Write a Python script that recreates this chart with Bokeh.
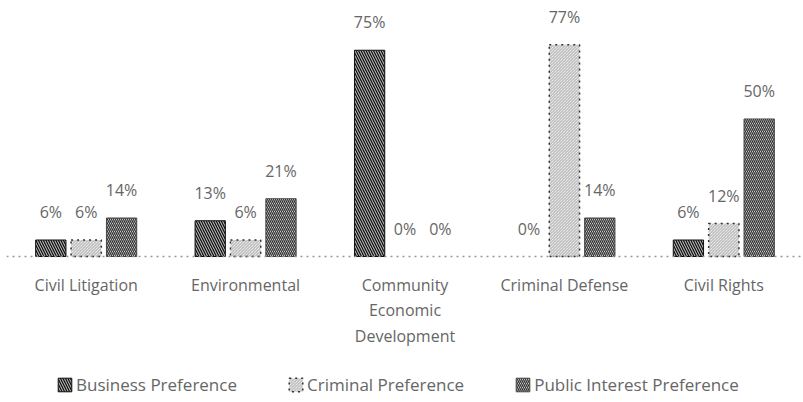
from bokeh.plotting import figure
from bokeh.models import ColumnDataSource, FactorRange, LabelSet, Legend, LegendItem, Range1d
from bokeh.core.properties import value
from bokeh.transform import dodge
from bokeh.embed import file_html
from bokeh.resources import INLINE

categories = ["Civil Litigation", "Environmental", "Community\nEconomic\nDevelopment",
              "Criminal Defense", "Civil Rights"]
business = [6, 13, 75, 0, 6]
criminal = [6, 6, 0, 77, 12]
public = [14, 21, 0, 14, 50]
series_names = ["Business Preference", "Criminal Preference", "Public Interest Preference"]

src = ColumnDataSource(dict(
    cat=categories, business=business, criminal=criminal, public=public,
    b_lbl=[f"{v}%" for v in business],
    c_lbl=[f"{v}%" for v in criminal],
    p_lbl=[f"{v}%" for v in public],
    b_a=[0 if v == 0 else 1 for v in business],
    c_a=[0 if v == 0 else 1 for v in criminal],
    p_a=[0 if v == 0 else 1 for v in public],
))

TXT = "#666666"
FONT = "Open Sans"

p = figure(x_range=FactorRange(*categories, range_padding=0), y_range=Range1d(-53.09, 93.09),
           width=803, height=402, output_backend="svg", toolbar_location=None,
           min_border_left=6, min_border_right=0, min_border_top=0, min_border_bottom=0)

off = 0.222
bw = 0.19
r1 = p.vbar(x=dodge("cat", -off, range=p.x_range), top="business", width=bw, source=src,
            fill_color="#111111", line_color="#111111", line_alpha="b_a",
            hatch_pattern="left_diagonal_line",
            hatch_color="white", hatch_scale=5, hatch_weight=0.8)
r2 = p.vbar(x=dodge("cat", 0, range=p.x_range), top="criminal", width=bw, source=src,
            fill_color="white", line_color="#333333", line_dash="dotted", line_width=1.5,
            line_alpha="c_a",
            hatch_pattern="left_diagonal_line", hatch_color="#b0b0b0", hatch_scale=3, hatch_weight=1)
r3 = p.vbar(x=dodge("cat", off, range=p.x_range), top="public", width=bw, source=src,
            fill_color="white", line_color="#444444", line_alpha="p_a",
            hatch_pattern="left_diagonal_line",
            hatch_color="#333333", hatch_scale=4, hatch_weight=1.4)

for col, lbl, o in [("business", "b_lbl", -off), ("criminal", "c_lbl", 0), ("public", "p_lbl", off)]:
    ls = LabelSet(x=dodge("cat", o, range=p.x_range), y=col, text=lbl, source=src,
                  y_offset=28, text_align="center", text_baseline="middle",
                  text_font=value(FONT), text_font_size="16px", text_color=TXT)
    p.add_layout(ls)

p.yaxis.visible = False
p.xgrid.grid_line_color = None
p.ygrid.grid_line_color = None
p.outline_line_color = None
ax = p.xaxis[0]
ax.fixed_location = 0
ax.axis_line_color = "#999999"
ax.axis_line_dash = "dotted"
ax.axis_line_width = 1.5
ax.major_tick_line_color = None
ax.minor_tick_line_color = None
ax.major_label_standoff = 11
ax.major_label_text_font = FONT
ax.major_label_text_font_size = "16px"
ax.major_label_text_color = TXT
ax.major_label_text_line_height = 1.18
ax.major_label_orientation = "horizontal"

legend = Legend(items=[LegendItem(label=series_names[0], renderers=[r1]),
                       LegendItem(label=series_names[1], renderers=[r2]),
                       LegendItem(label=series_names[2], renderers=[r3])],
                orientation="horizontal", location=(50, 6),
                label_text_font=FONT, label_text_font_size="17px", label_text_color=TXT,
                glyph_width=17, glyph_height=17, spacing=50, label_standoff=3,
                border_line_alpha=0, background_fill_alpha=0, margin=0, padding=0)
p.add_layout(legend, "center")

open("out.html", "w").write(file_html(p, INLINE))
